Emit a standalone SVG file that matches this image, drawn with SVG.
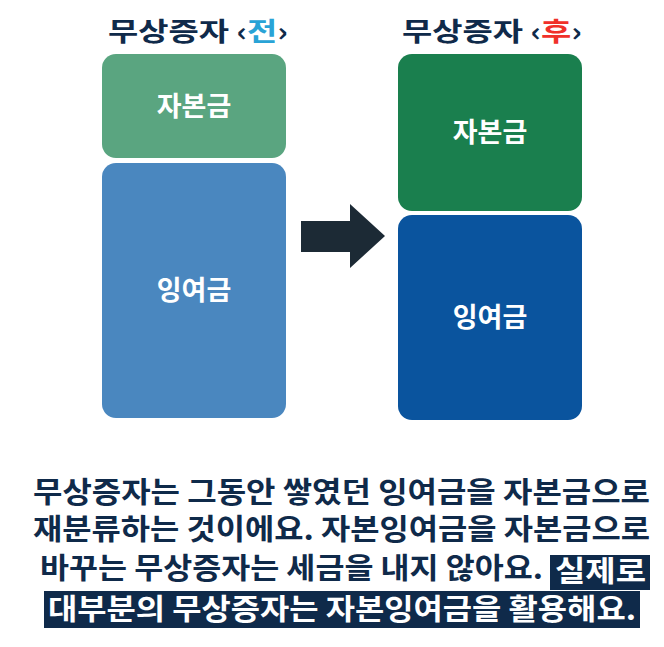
<svg xmlns="http://www.w3.org/2000/svg" width="664" height="647" viewBox="0 0 664 647">
<style>
text{font-family:"Noto Sans CJK KR","Noto Sans",sans-serif;font-weight:700}
.t{fill:#0f2a4a;font-size:26px}
.n{fill:#fff;font-size:27px;text-anchor:middle}
.b{fill:#0f2a4a;font-size:29px}
.w{fill:#ffffff;font-size:29px}
</style>
<rect width="664" height="647" fill="#fff"/>
<g id="title-before"><text class="t" x="108" y="41" textLength="180" lengthAdjust="spacingAndGlyphs">무상증자 ‹<tspan fill="#29a3d6">전</tspan>›</text></g>
<g id="title-after"><text class="t" x="402" y="41" textLength="180" lengthAdjust="spacingAndGlyphs">무상증자 ‹<tspan fill="#f0302a">후</tspan>›</text></g>
<g id="before-capital"><rect x="102" y="54" width="184" height="104" rx="14" fill="#5aa580"/><text class="n" x="194" y="116">자본금</text></g>
<g id="before-surplus"><rect x="102" y="163" width="184" height="255" rx="14" fill="#4a87bf"/><text class="n" x="194" y="300">잉여금</text></g>
<g id="after-capital"><rect x="398" y="54" width="184" height="157" rx="14" fill="#1a7f4e"/><text class="n" x="490" y="142">자본금</text></g>
<g id="after-surplus"><rect x="398" y="215" width="184" height="205" rx="14" fill="#0a549e"/><text class="n" x="490" y="327">잉여금</text></g>
<g id="connectors"><polygon points="301,221 350,221 350,204 385,236 350,268 350,252 301,252" fill="#1c2a35"/></g>
<g id="caption">
<rect x="550" y="555" width="100" height="35" fill="#0f2a4a"/>
<rect x="44" y="591" width="596" height="37" fill="#0f2a4a"/>
<text class="b" x="33" y="503" textLength="617" lengthAdjust="spacingAndGlyphs">무상증자는 그동안 쌓였던 잉여금을 자본금으로</text>
<text class="b" x="33" y="540" textLength="617" lengthAdjust="spacingAndGlyphs">재분류하는 것이에요. 자본잉여금을 자본금으로</text>
<text class="b" x="40" y="579" textLength="503" lengthAdjust="spacingAndGlyphs">바꾸는 무상증자는 세금을 내지 않아요.</text>
<text class="w" x="555" y="582" textLength="91" lengthAdjust="spacingAndGlyphs">실제로</text>
<text class="w" x="48" y="620" textLength="588" lengthAdjust="spacingAndGlyphs">대부분의 무상증자는 자본잉여금을 활용해요.</text>
</g>
</svg>
